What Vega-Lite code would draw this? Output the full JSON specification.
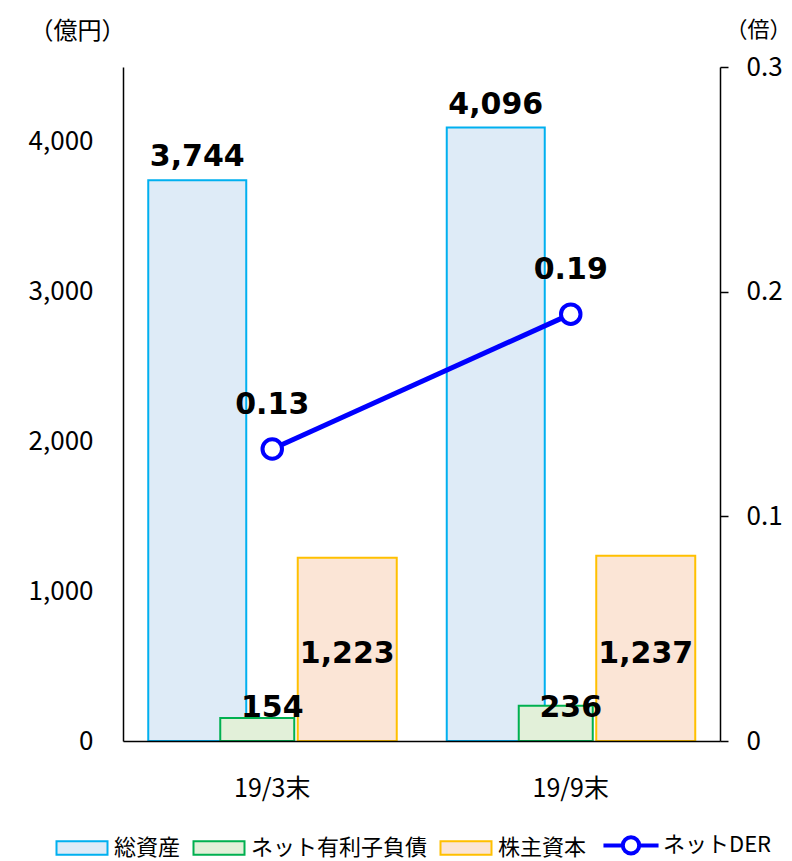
{
  "$schema": "https://vega.github.io/schema/vega-lite/v6.json",
  "width": 597,
  "height": 674,
  "autosize": "none",
  "padding": {"left": 123, "top": 67, "right": 72, "bottom": 120},
  "background": "white",
  "datasets": {
    "bars": [
      {"period": "19/3末", "series": "総資産", "value": 3744},
      {"period": "19/3末", "series": "ネット有利子負債", "value": 154},
      {"period": "19/3末", "series": "株主資本", "value": 1223},
      {"period": "19/9末", "series": "総資産", "value": 4096},
      {"period": "19/9末", "series": "ネット有利子負債", "value": 236},
      {"period": "19/9末", "series": "株主資本", "value": 1237}
    ],
    "der": [
      {"period": "19/3末", "der": 0.13},
      {"period": "19/9末", "der": 0.19}
    ]
  },
  "layer": [
    {
      "data": {"name": "bars"},
      "encoding": {
        "x": {
          "field": "period",
          "type": "nominal",
          "scale": {"domain": ["19/3末", "19/9末"], "paddingInner": 0.397, "paddingOuter": 0.1985},
          "axis": {
            "title": null,
            "labelAngle": 0,
            "labelFontSize": 25,
            "labelPadding": 35,
            "labelColor": "#000000",
            "ticks": false,
            "domainColor": "#000000",
            "domainWidth": 1.5,
            "zindex": 1
          }
        },
        "y": {
          "field": "value",
          "type": "quantitative",
          "scale": {"domain": [0, 4500], "nice": false},
          "axis": {
            "title": "（億円）",
            "titleAngle": 0,
            "titleX": -46,
            "titleY": -36,
            "titleAlign": "center",
            "titleBaseline": "middle",
            "titleFontSize": 24,
            "titleFontWeight": "normal",
            "titleColor": "#000000",
            "values": [0, 1000, 2000, 3000, 4000],
            "labelExpr": "format(datum.value, ',')",
            "labelFontSize": 26,
            "labelPadding": 30,
            "labelColor": "#000000",
            "ticks": false,
            "grid": false,
            "domainColor": "#000000",
            "domainWidth": 1.5
          }
        }
      },
      "layer": [
        {
          "transform": [{"filter": "datum.series === '総資産'"}],
          "mark": {"type": "bar", "width": 98, "strokeWidth": 2},
          "encoding": {
            "xOffset": {"field": "series", "type": "nominal", "scale": {"domain": ["総資産", "_a", "ネット有利子負債", "_b", "_c", "株主資本"], "paddingInner": 0, "paddingOuter": 0}},
            "fill": {
              "field": "series",
              "type": "nominal",
              "scale": {"domain": ["総資産", "ネット有利子負債", "株主資本", "ネットDER"], "range": ["#DEEBF7", "#E2F0D9", "#FBE5D6", "#FFFFFF"]},
              "legend": {
                "title": null,
                "orient": "none",
                "direction": "horizontal",
                "legendX": -66,
                "legendY": 767,
                "symbolSize": 2601,
                "symbolType": "M-1,-0.26H1V0.26H-1Z",
                "symbolStrokeWidth": 2,
                "symbolOffset": 14,
                "labelFontSize": 22,
                "labelColor": "#000000",
                "labelOffset": 21,
                "labelLimit": 400,
                "columnPadding": 8,
                "encode": {
                  "symbols": {
                    "update": {
                      "size": {"value": 2601},
                      "shape": {"signal": "datum.value === 'ネットDER' ? 'M-1.08,0H-0.32M0.32,0H1.08M-0.32,0A0.32,0.32 0 1,1 0.32,0A0.32,0.32 0 1,1 -0.32,0' : 'M-1,-0.26H1V0.26H-1Z'"},
                      "strokeWidth": {"signal": "datum.value === 'ネットDER' ? 4 : 2"}
                    }
                  }
                }
              }
            },
            "stroke": {
              "field": "series",
              "type": "nominal",
              "scale": {"domain": ["総資産", "ネット有利子負債", "株主資本", "ネットDER"], "range": ["#00B0F0", "#00B050", "#FFC000", "#0000FF"]}
            }
          }
        },
        {
          "transform": [{"filter": "datum.series === 'ネット有利子負債'"}],
          "mark": {"type": "bar", "width": 74, "strokeWidth": 2},
          "encoding": {
            "xOffset": {"field": "series", "type": "nominal"},
            "fill": {"field": "series", "type": "nominal"},
            "stroke": {"field": "series", "type": "nominal"}
          }
        },
        {
          "transform": [{"filter": "datum.series === '株主資本'"}],
          "mark": {"type": "bar", "width": 99, "strokeWidth": 2},
          "encoding": {
            "xOffset": {"field": "series", "type": "nominal"},
            "fill": {"field": "series", "type": "nominal"},
            "stroke": {"field": "series", "type": "nominal"}
          }
        },
        {
          "transform": [{"filter": "datum.series === '総資産'"}],
          "mark": {"type": "text", "dy": -14, "baseline": "alphabetic", "font": "DejaVu Sans", "fontWeight": "bold", "fontSize": 30, "color": "#000000"},
          "encoding": {
            "xOffset": {"field": "series", "type": "nominal"},
            "text": {"field": "value", "type": "quantitative", "format": ","}
          }
        },
        {
          "transform": [{"filter": "datum.series === 'ネット有利子負債'"}],
          "mark": {"type": "text", "dy": -24, "baseline": "alphabetic", "font": "DejaVu Sans", "fontWeight": "bold", "fontSize": 30, "color": "#000000"},
          "encoding": {
            "y": {"datum": 0, "type": "quantitative"},
            "text": {"field": "value", "type": "quantitative", "format": ","}
          }
        },
        {
          "transform": [{"filter": "datum.series === '株主資本'"}],
          "mark": {"type": "text", "dy": -78, "baseline": "alphabetic", "font": "DejaVu Sans", "fontWeight": "bold", "fontSize": 30, "color": "#000000"},
          "encoding": {
            "xOffset": {"field": "series", "type": "nominal"},
            "y": {"datum": 0, "type": "quantitative"},
            "text": {"field": "value", "type": "quantitative", "format": ","}
          }
        }
      ]
    },
    {
      "data": {"name": "der"},
      "encoding": {
        "x": {"field": "period", "type": "nominal"},
        "y": {
          "field": "der",
          "type": "quantitative",
          "scale": {"domain": [0, 0.3], "nice": false},
          "axis": {
            "orient": "right",
            "title": "（倍）",
            "titleAngle": 0,
            "titleX": 38,
            "titleY": -38,
            "titleAlign": "center",
            "titleBaseline": "middle",
            "titleFontSize": 22,
            "titleFontWeight": "normal",
            "titleColor": "#000000",
            "values": [0, 0.1, 0.2, 0.3],
            "format": ".1~f",
            "labelFontSize": 26,
            "labelPadding": 18,
            "labelColor": "#000000",
            "tickSize": 8,
            "tickColor": "#000000",
            "tickWidth": 1.5,
            "grid": false,
            "domainColor": "#000000",
            "domainWidth": 1.5
          }
        }
      },
      "layer": [
        {"mark": {"type": "line", "color": "#0000FF", "strokeWidth": 5}},
        {"mark": {"type": "point", "shape": "circle", "filled": true, "fill": "#FFFFFF", "stroke": "#0000FF", "strokeWidth": 4, "size": 380, "opacity": 1}},
        {
          "mark": {"type": "text", "dy": -35, "baseline": "alphabetic", "font": "DejaVu Sans", "fontWeight": "bold", "fontSize": 30, "color": "#000000"},
          "encoding": {"text": {"field": "der", "type": "quantitative", "format": ".2f"}}
        }
      ]
    }
  ],
  "resolve": {"scale": {"y": "independent"}},
  "config": {
    "font": "Noto Sans CJK JP",
    "view": {"stroke": null}
  }
}
